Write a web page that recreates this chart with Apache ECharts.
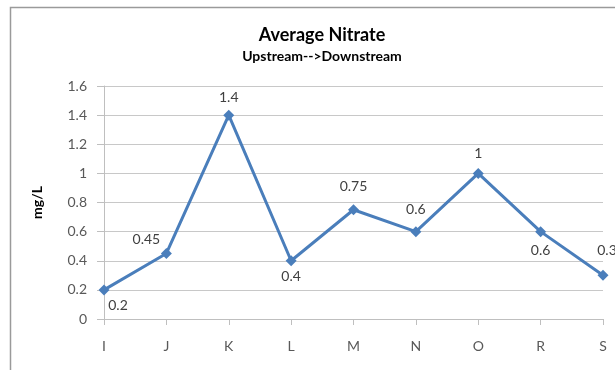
<!DOCTYPE html>
<html>
<head>
<meta charset="utf-8">
<script src="https://cdn.jsdelivr.net/npm/echarts@6/dist/echarts.min.js"></script>
<style>
  html, body { margin: 0; padding: 0; background: #fff; }
  #chart { width: 615px; height: 370px; }
</style>
</head>
<body>
<div id="chart"></div>
<script>
const categories = ['I', 'J', 'K', 'L', 'M', 'N', 'O', 'R', 'S'];
const nitrate = [0.2, 0.45, 1.4, 0.4, 0.75, 0.6, 1, 0.6, 0.3];

const fontFamily = "Lato, 'Liberation Sans', sans-serif";

// where each value label sits around its point
const labelPlace = [
  { position: 'bottom', offset: [14, -2] },
  { position: 'top', offset: [-20, 4] },
  { position: 'top', offset: [0, 0] },
  { position: 'bottom', offset: [0, -2] },
  { position: 'top', offset: [0, -6] },
  { position: 'top', offset: [0, -5] },
  { position: 'top', offset: [0, -2] },
  { position: 'bottom', offset: [0, 1] },
  { position: 'top', offset: [4, -7] },
];

const chart = echarts.init(document.getElementById('chart'));

const option = {
  backgroundColor: '#fff',
  animation: false,
  textStyle: { fontFamily },
  graphic: [
    {
      type: 'rect',
      left: 8,
      top: 5,
      shape: { width: 700, height: 400 },
      style: { fill: 'none', stroke: '#9a9a9a', lineWidth: 1.5 },
      silent: true,
    },
  ],
  title: {
    text: 'Average Nitrate',
    subtext: 'Upstream-->Downstream',
    left: 317,
    textAlign: 'center',
    top: 21,
    itemGap: 5,
    textStyle: { fontSize: 18, fontWeight: 'bold', color: '#000', fontFamily },
    subtextStyle: { fontSize: 14, fontWeight: 'bold', color: '#000', fontFamily },
  },
  grid: { left: 104, right: 12, top: 86, bottom: 51, containLabel: false },
  xAxis: {
    type: 'category',
    data: categories,
    boundaryGap: false,
    axisLine: { lineStyle: { color: '#bfbfbf', width: 1 } },
    axisTick: { show: true, length: 6, alignWithLabel: true, lineStyle: { color: '#bfbfbf' } },
    axisLabel: { color: '#595959', fontSize: 14, margin: 20, fontFamily },
  },
  yAxis: {
    type: 'value',
    min: 0,
    max: 1.6,
    interval: 0.2,
    name: 'mg/L',
    nameLocation: 'middle',
    nameGap: 60,
    nameRotate: 90,
    nameTextStyle: { fontSize: 14, fontWeight: 'bold', color: '#000', fontFamily },
    axisLine: { show: true, lineStyle: { color: '#bfbfbf', width: 1 } },
    axisTick: { show: true, length: 7, lineStyle: { color: '#bfbfbf' } },
    axisLabel: { color: '#595959', fontSize: 14, margin: 17, fontFamily },
    splitLine: { lineStyle: { color: '#c8c8c8', width: 1 } },
  },
  series: [
    {
      name: 'Average Nitrate',
      type: 'line',
      data: nitrate.map((v, i) => ({
        value: v,
        label: { position: labelPlace[i].position, offset: labelPlace[i].offset },
      })),
      symbol: 'diamond',
      symbolSize: 11,
      lineStyle: { color: '#4a7ebb', width: 3 },
      itemStyle: { color: '#4a7ebb' },
      label: { show: true, color: '#404040', fontSize: 14, fontFamily },
      emphasis: { disabled: true },
    },
  ],
};

chart.setOption(option);
</script>
</body>
</html>
